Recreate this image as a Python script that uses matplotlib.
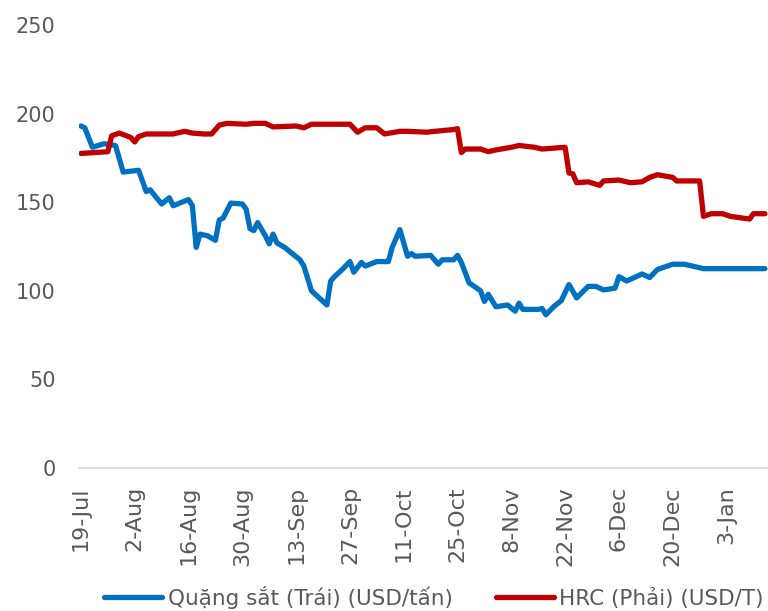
import matplotlib
matplotlib.use('Agg')
import matplotlib.pyplot as plt
import matplotlib.dates as mdates
import pandas as pd

# iron ore (left axis), USD/tan
ore_dates = ['2021-07-19', '2021-07-20', '2021-07-22', '2021-07-25', '2021-07-28',
             '2021-07-30', '2021-08-03', '2021-08-05', '2021-08-06', '2021-08-09',
             '2021-08-11', '2021-08-12', '2021-08-16', '2021-08-17', '2021-08-18',
             '2021-08-19', '2021-08-21', '2021-08-23', '2021-08-24', '2021-08-25',
             '2021-08-27', '2021-08-30', '2021-08-31', '2021-09-01', '2021-09-02',
             '2021-09-03', '2021-09-05', '2021-09-06', '2021-09-07', '2021-09-08',
             '2021-09-10', '2021-09-14', '2021-09-15', '2021-09-17', '2021-09-21',
             '2021-09-22', '2021-09-23', '2021-09-25', '2021-09-27', '2021-09-28',
             '2021-09-30', '2021-10-01', '2021-10-04', '2021-10-07', '2021-10-08',
             '2021-10-10', '2021-10-12', '2021-10-13', '2021-10-14', '2021-10-18',
             '2021-10-20', '2021-10-21', '2021-10-24', '2021-10-25', '2021-10-26',
             '2021-10-28', '2021-10-31', '2021-11-01', '2021-11-02', '2021-11-04',
             '2021-11-07', '2021-11-09', '2021-11-10', '2021-11-11', '2021-11-15',
             '2021-11-16', '2021-11-17', '2021-11-19', '2021-11-21', '2021-11-23',
             '2021-11-25', '2021-11-28', '2021-11-30', '2021-12-02', '2021-12-05',
             '2021-12-06', '2021-12-08', '2021-12-12', '2021-12-14', '2021-12-16',
             '2021-12-20', '2021-12-23', '2021-12-25', '2021-12-28', '2022-01-13']
ore_vals = [193, 192, 181, 183, 182,
            167, 168, 156, 157, 149,
            152.5, 148, 151.5, 148, 124.5,
            132, 131, 128.5, 140, 141,
            149.5, 149, 146, 135, 134,
            138.5, 131, 126.5, 132, 127,
            124.5, 117.5, 114, 100, 92,
            105.5, 108, 112, 116.5, 110.5,
            116, 114, 116.5, 116.5, 124.5,
            134.5, 119.5, 121, 119.5, 120,
            115, 117.5, 117.5, 120, 116,
            104.5, 100, 94, 98, 91,
            92, 88.5, 93, 89.5, 89.5,
            90, 86.5, 91, 94.5, 103.5,
            96, 102.5, 102.5, 100.5, 101.5,
            108, 105.5, 109.5, 107.5, 112,
            115, 115, 114, 112.5, 112.5]

# HRC (right axis), USD/T
hrc_dates = ['2021-07-19', '2021-07-26', '2021-07-27', '2021-07-29', '2021-08-01',
             '2021-08-02', '2021-08-03', '2021-08-05', '2021-08-09', '2021-08-12',
             '2021-08-15', '2021-08-17', '2021-08-20', '2021-08-22', '2021-08-24',
             '2021-08-26', '2021-08-31', '2021-09-02', '2021-09-05', '2021-09-07',
             '2021-09-13', '2021-09-15', '2021-09-17', '2021-09-27', '2021-09-29',
             '2021-10-01', '2021-10-04', '2021-10-06', '2021-10-10', '2021-10-12',
             '2021-10-17', '2021-10-19', '2021-10-24', '2021-10-25', '2021-10-26',
             '2021-10-27', '2021-10-28', '2021-10-31', '2021-11-02', '2021-11-04',
             '2021-11-08', '2021-11-10', '2021-11-14', '2021-11-16', '2021-11-22',
             '2021-11-23', '2021-11-24', '2021-11-25', '2021-11-28', '2021-12-01',
             '2021-12-02', '2021-12-06', '2021-12-09', '2021-12-12', '2021-12-14',
             '2021-12-16', '2021-12-20', '2021-12-21', '2021-12-27', '2021-12-28',
             '2021-12-30', '2022-01-02', '2022-01-04', '2022-01-09', '2022-01-10',
             '2022-01-13']
hrc_vals = [177.5, 178.5, 187.5, 189, 186.5,
            184, 187, 188.5, 188.5, 188.5,
            190, 189, 188.5, 188.5, 193.5,
            194.5, 194, 194.5, 194.5, 192.5,
            193, 192, 194, 194, 189.5,
            192, 192, 188.5, 190, 190,
            189.5, 190, 191, 191.5, 178,
            180, 180, 180, 178.5, 179.5,
            181, 182, 181, 180, 181,
            166.5, 166, 161, 161.5, 159.5,
            162, 162.5, 161, 161.5, 164,
            165.5, 164, 162, 162, 142,
            143.5, 143.5, 142, 140.5, 143.5,
            143.5]

tick_dates = ['2021-07-19', '2021-08-02', '2021-08-16', '2021-08-30', '2021-09-13',
              '2021-09-27', '2021-10-11', '2021-10-25', '2021-11-08', '2021-11-22',
              '2021-12-06', '2021-12-20', '2022-01-03']

ore_label = 'Quặng sắt (Trái) (USD/tấn)'
hrc_label = 'HRC (Phải) (USD/T)'

plt.rcParams['font.family'] = ['DejaVu Sans']
grey = '#595959'

fig = plt.figure(figsize=(7.68, 6.11), dpi=100)
ax = fig.add_axes([79/768, 1 - 468/611, 689/768, 443/611])

ax.plot(pd.to_datetime(ore_dates), ore_vals, color='#0070C0', lw=3.8,
        solid_capstyle='round', solid_joinstyle='round', label=ore_label)
ax.plot(pd.to_datetime(hrc_dates), hrc_vals, color='#C00000', lw=3.8,
        solid_capstyle='round', solid_joinstyle='round', label=hrc_label)

ax.set_ylim(0, 250)
ax.set_yticks([0, 50, 100, 150, 200, 250])
start = pd.Timestamp('2021-07-19') - pd.Timedelta(hours=12)
end = pd.Timestamp('2022-01-13') + pd.Timedelta(hours=19)
ax.set_xlim(start, end)
ax.set_xticks(pd.to_datetime(tick_dates))
ax.xaxis.set_major_formatter(mdates.DateFormatter('%-d-%b'))

for s in ['top', 'right', 'left']:
    ax.spines[s].set_visible(False)
ax.spines['bottom'].set_color('#D9D9D9')
ax.spines['bottom'].set_linewidth(1.2)

ax.tick_params(axis='y', length=0, pad=17, labelsize=15, labelcolor=grey)
ax.tick_params(axis='x', length=0, pad=13, labelsize=16, labelcolor=grey,
               labelrotation=90)

leg = fig.legend(loc='lower center', bbox_to_anchor=(0.565, -0.028), ncol=2,
                 frameon=False, fontsize=15.5, handlelength=2.7, handletextpad=0.25,
                 columnspacing=2.0, labelcolor=grey)

fig.savefig('out.png', dpi=100)
